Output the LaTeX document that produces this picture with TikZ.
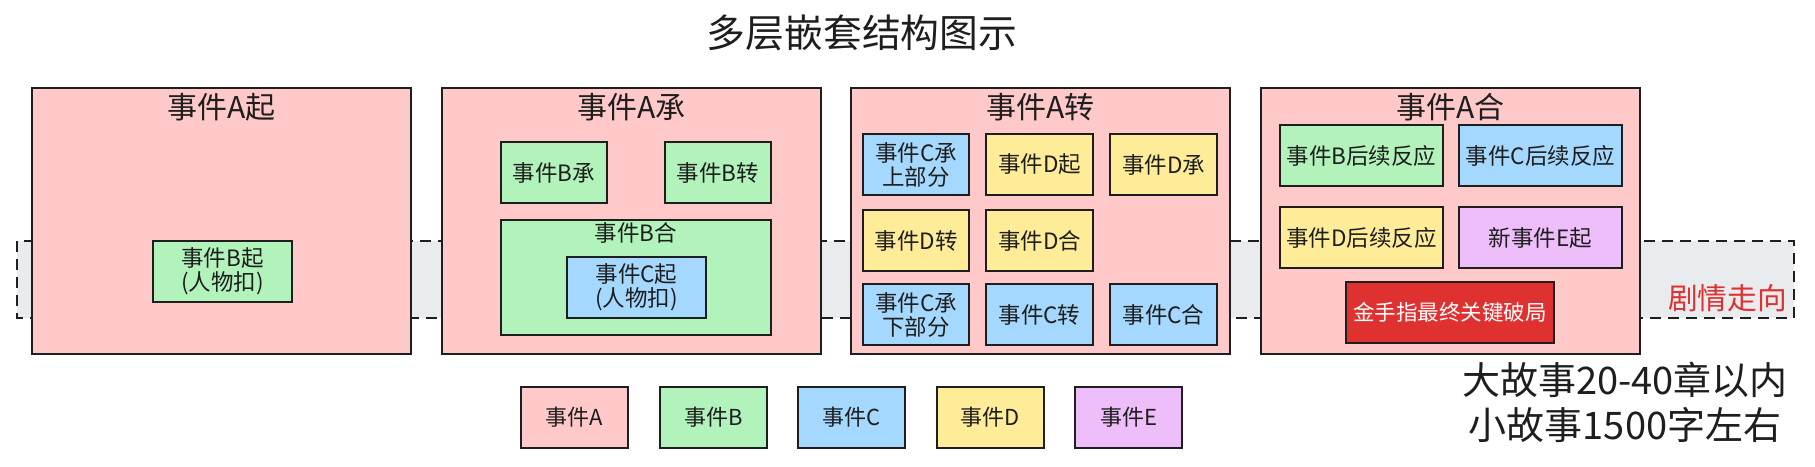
\documentclass[tikz,border=0pt]{standalone}
\usepackage{fontspec}
\newfontfamily\cjk{Noto Sans CJK SC}
\definecolor{ink}{HTML}{1E1E1E}
\definecolor{evA}{HTML}{FFC9C9}
\definecolor{evB}{HTML}{B2F2BB}
\definecolor{evC}{HTML}{A5D8FF}
\definecolor{evD}{HTML}{FFEC99}
\definecolor{evE}{HTML}{EEBEFA}
\definecolor{evRed}{HTML}{E03131}
\definecolor{band}{HTML}{E9ECEF}
\tikzset{
  every node/.style={font=\cjk, text=ink},
  box/.style={draw=ink, line width=2pt, inner sep=0pt, align=center},
  bigbox/.style={box, fill=evA, minimum height=266pt, minimum width=379pt},
  smallbox/.style={box, minimum height=61pt, font=\cjk\fontsize{22.5}{24}\selectfont},
  legbox/.style={box, minimum height=61pt, minimum width=107pt, font=\cjk\fontsize{22}{24}\selectfont},
  atitle/.style={font=\cjk\fontsize{30}{34}\selectfont},
}
\begin{document}
\begin{tikzpicture}[x=1pt,y=-1pt]
\useasboundingbox (0,0) rectangle (1815,466);
% title
\node[font=\cjk\fontsize{38.8}{42}\selectfont] (title) at (862,33) {多层嵌套结构图示};
% plot band
\coordinate (bandTL) at (17,241);
\coordinate (bandBR) at (1794,318);
\draw[fill=band, draw=ink, line width=2pt, dash pattern=on 11pt off 7pt] (bandTL) rectangle (bandBR);
% big A boxes
\node[bigbox] (A1) at (221.5,221) {};
\node[bigbox] (A2) at (631.5,221) {};
\node[bigbox] (A3) at (1040.5,221) {};
\node[bigbox] (A4) at (1450.5,221) {};
\node[atitle] (A1t) at (221.5,107) {事件A起};
\node[atitle] (A2t) at (631.5,107) {事件A承};
\node[atitle] (A3t) at (1040.5,107) {事件A转};
\node[atitle] (A4t) at (1450.5,107) {事件A合};
% A起
\node[smallbox, fill=evB, minimum width=139pt] (B1) at (222.5,271.5) {事件B起\\(人物扣)};
% A承
\node[smallbox, fill=evB, minimum width=106pt] (B2) at (554,172.5) {事件B承};
\node[smallbox, fill=evB, minimum width=106pt] (B3) at (718,172.5) {事件B转};
\node[box, fill=evB, minimum width=270pt, minimum height=115pt] (B4) at (636,277.5) {};
\node[font=\cjk\fontsize{22.5}{24}\selectfont] (B4t) at (636,233) {事件B合};
\node[smallbox, fill=evC, minimum width=139pt] (C1) at (636.5,287.5) {事件C起\\(人物扣)};
% A转
\node[smallbox, fill=evC, minimum width=106pt] (C2a) at (916,164.5) {事件C承\\上部分};
\node[smallbox, fill=evD, minimum width=107pt] (D1) at (1039.5,164.5) {事件D起};
\node[smallbox, fill=evD, minimum width=107pt] (D2) at (1163.5,164.5) {事件D承};
\node[smallbox, fill=evD, minimum width=106pt] (D3) at (916,240.5) {事件D转};
\node[smallbox, fill=evD, minimum width=107pt] (D4) at (1039.5,240.5) {事件D合};
\node[smallbox, fill=evC, minimum width=106pt] (C2b) at (916,314.5) {事件C承\\下部分};
\node[smallbox, fill=evC, minimum width=107pt] (C3) at (1039.5,314.5) {事件C转};
\node[smallbox, fill=evC, minimum width=107pt] (C4) at (1163.5,314.5) {事件C合};
% A合
\node[smallbox, fill=evB, minimum width=163pt] (Br) at (1361.5,155.5) {事件B后续反应};
\node[smallbox, fill=evC, minimum width=163pt] (Cr) at (1540.5,155.5) {事件C后续反应};
\node[smallbox, fill=evD, minimum width=163pt] (Dr) at (1361.5,237.5) {事件D后续反应};
\node[smallbox, fill=evE, minimum width=163pt] (E1) at (1540.5,237.5) {新事件E起};
\node[smallbox, fill=evRed, text=white, minimum width=208pt, font=\cjk\fontsize{21.5}{24}\selectfont] (gold) at (1450,312.5) {金手指最终关键破局};
% band label
\node[anchor=east, inner sep=0pt, text=evRed, font=\cjk\fontsize{29.7}{32}\selectfont] (flow) at (1787,298) {剧情走向};
% note
\node[align=center, font=\cjk\fontsize{38}{45}\selectfont] (note) at (1625,402.5) {大故事20-40章以内\\小故事1500字左右};
% legend
\node[legbox, fill=evA] (LA) at (574.5,417.5) {事件A};
\node[legbox, fill=evB] (LB) at (713.5,417.5) {事件B};
\node[legbox, fill=evC] (LC) at (851.5,417.5) {事件C};
\node[legbox, fill=evD] (LD) at (990.5,417.5) {事件D};
\node[legbox, fill=evE] (LE) at (1128.5,417.5) {事件E};
\end{tikzpicture}
\end{document}
